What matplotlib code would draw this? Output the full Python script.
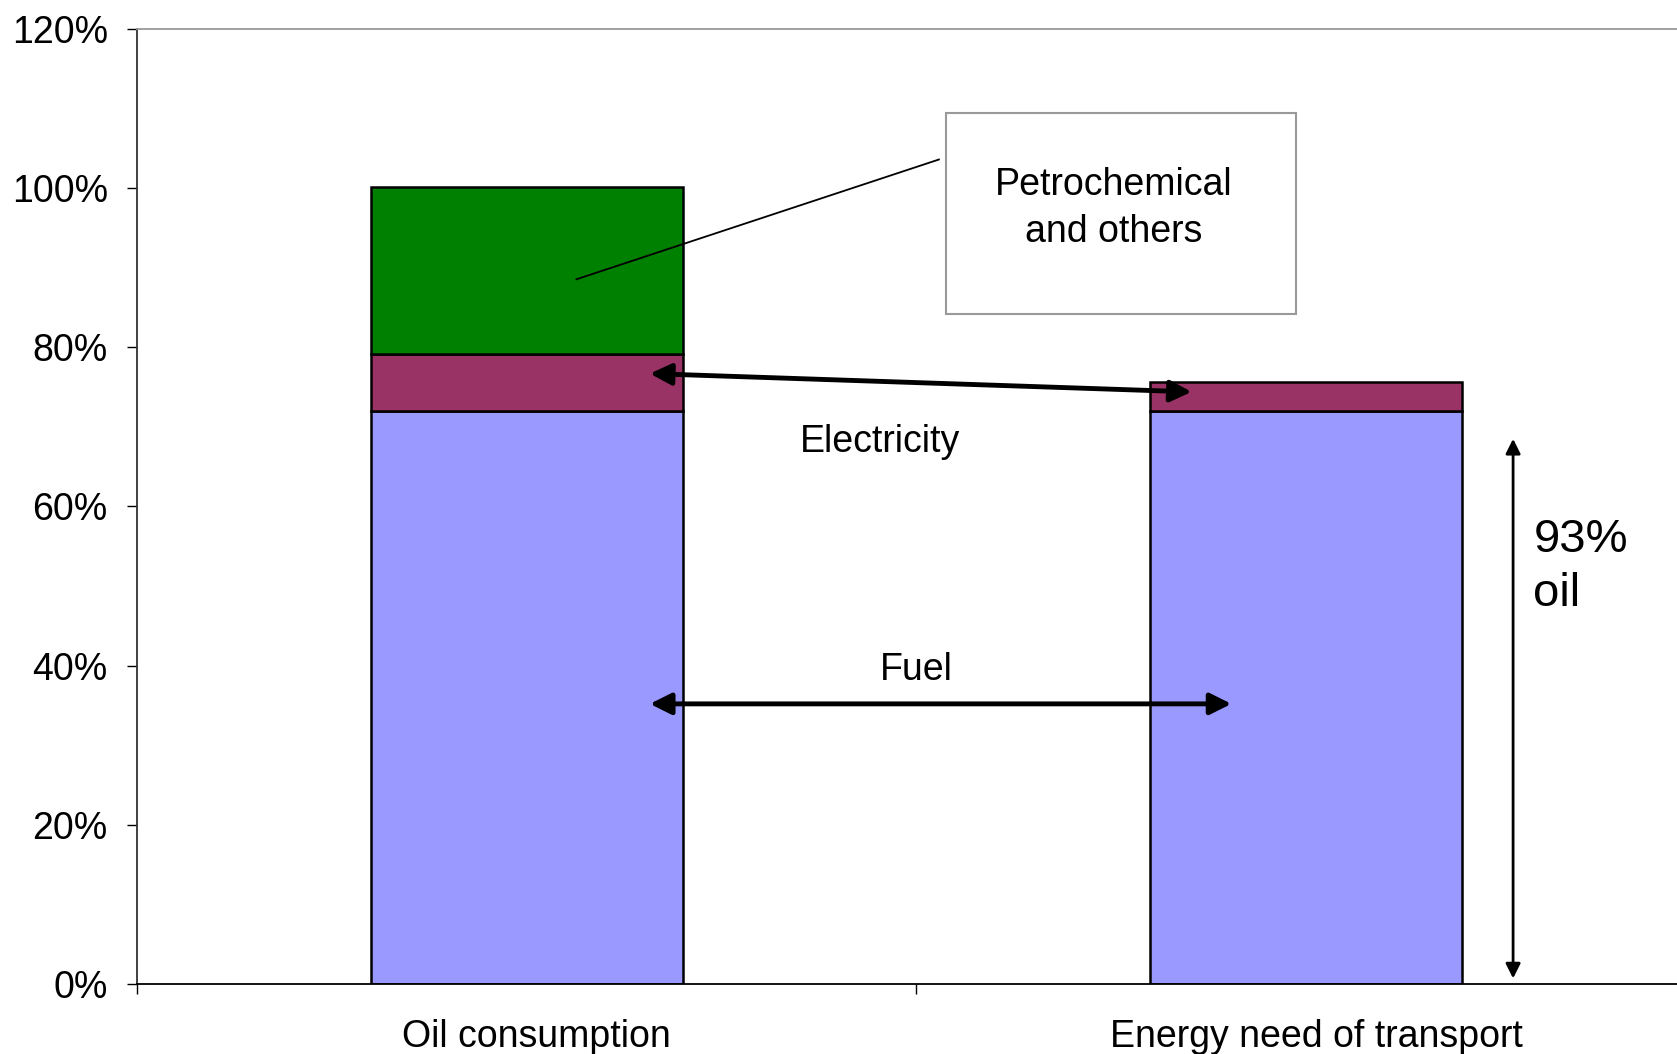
import matplotlib
matplotlib.use("Agg")
from matplotlib import pyplot as plt
from matplotlib.ticker import FuncFormatter
from matplotlib.transforms import ScaledTranslation

plt.rcParams['font.family'] = ['Liberation Sans', 'DejaVu Sans']

categories = ['Oil consumption', 'Energy need of transport']
fuel = [72, 72]
electricity = [7.2, 3.7]
petrochemical = [21, 0]

fuelColor = '#9999FF'
elecColor = '#993366'
petroColor = '#008000'
fs = 27

fig = plt.figure(figsize=(16.77, 10.54), dpi=100)
ax = fig.add_axes([0.0817, 0.0664, 0.9296, 0.9061])

x = list(range(len(categories)))
bottom2 = [f + e for f, e in zip(fuel, electricity)]

ax.bar(x, fuel, width=0.4, color=fuelColor, edgecolor='black', linewidth=1.8)
ax.bar(x, electricity, width=0.4, bottom=fuel, color=elecColor, edgecolor='black', linewidth=1.8)
ax.bar(x[:1], petrochemical[:1], width=0.4, bottom=bottom2[:1], color=petroColor, edgecolor='black', linewidth=1.8)

ax.set_xlim(-0.5, 1.5)
ax.set_ylim(0, 120)

# y axis
ax.set_yticks(range(0, 121, 20))
ax.yaxis.set_major_formatter(FuncFormatter(lambda v, p: '%d%%' % v))
ax.tick_params(axis='y', direction='out', length=7, width=1, labelsize=fs, pad=14)

# x axis: ticks at category boundaries, labels at centres
ax.set_xticks([-0.5, 0.5, 1.5])
ax.set_xticklabels(['', '', ''])
ax.set_xticks(x, minor=True)
ax.set_xticklabels(categories, minor=True)
ax.tick_params(axis='x', which='major', direction='out', length=7, width=1)
ax.tick_params(axis='x', which='minor', length=0, labelsize=fs, pad=25)
shift = ScaledTranslation(7 / 72, 0, fig.dpi_scale_trans)
for lbl in ax.get_xticklabels(minor=True):
    lbl.set_transform(lbl.get_transform() + shift)

ax.spines['left'].set_color('#333333')
ax.spines['bottom'].set_color('black')
ax.spines['top'].set_color('#999999')
ax.spines['right'].set_visible(False)
for s in ['left', 'bottom', 'top']:
    ax.spines[s].set_linewidth(1.3)

# arrows
heavy = dict(arrowstyle='<|-|>', color='black', lw=3.5, mutation_scale=32, shrinkA=0, shrinkB=0)
ax.annotate('', xy=(0.158, 76.7), xytext=(0.853, 74.4), arrowprops=heavy)
ax.annotate('', xy=(0.158, 35.2), xytext=(0.904, 35.2), arrowprops=heavy)
ax.annotate('', xy=(1.2654, 68.5), xytext=(1.2654, 0.7),
            arrowprops=dict(arrowstyle='<|-|>', color='black', lw=2, mutation_scale=22, shrinkA=0, shrinkB=0))

ax.text(0.453, 68.1, 'Electricity', fontsize=fs, ha='center', va='center')
ax.text(0.5, 39.4, 'Fuel', fontsize=fs, ha='center', va='center')
ax.text(1.2915, 52.4, '93%\noil', fontsize=34, ha='left', va='center', linespacing=1.3)

# callout box
ax.add_patch(plt.Rectangle((0.5384, 84.25), 0.987 - 0.5384, 109.4 - 84.25,
                           facecolor='white', edgecolor='#999999', linewidth=1.5, zorder=3))
ax.text(0.7524, 97.4, 'Petrochemical\nand others', fontsize=fs, ha='center', va='center',
        linespacing=1.4, zorder=4)
ax.plot([0.5288, 0.0638], [103.6, 88.55], color='black', lw=1.3)

fig.savefig('out.png', dpi=100)
